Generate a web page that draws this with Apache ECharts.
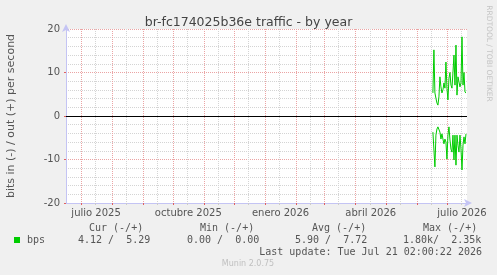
<!DOCTYPE html>
<html>
<head>
<meta charset="utf-8">
<script src="https://cdn.jsdelivr.net/npm/echarts@6/dist/echarts.min.js"></script>
<style>
html,body{margin:0;padding:0;background:#f0f0f0;}
#c{width:497px;height:275px;}
</style>
</head>
<body>
<div id="c"></div>
<script>
// ---- data ----
const AXIS_START = '2025-06-16';
const AXIS_DAYS = 401;
const DATA_START = '2026-06-17';
const outValues = [5.3, 15.2, 5.3, 4.1, 3.0, 2.5, 4.4, 9.0, 6.7, 5.3, 6.0, 7.6, 6.4, 12.4, 6.4, 3.7, 8.7,
  10.0, 7.1, 6.4, 10.0, 14.0, 7.1, 16.3, 4.8, 9.0, 8.7, 6.7, 7.6, 18.2, 7.1, 10.0, 5.5, 5.29];
const inValues = [-3.7, -4.1, -11.7, -4.4, -3.0, -2.5, -2.1, -3.7, -5.3, -4.1, -5.3, -6.4, -5.3, -6.0, -9.9,
  -4.4, -2.5, -5.5, -7.6, -8.3, -4.4, -10.1, -4.4, -11.3, -4.4, -6.7, -8.3, -4.4, -7.6, -12.4, -6.7, -4.8, -6.4, -4.12];
const yTicks = {min: -20, max: 20, interval: 10};
const monthNames = ['enero','febrero','marzo','abril','mayo','junio','julio','agosto','septiembre','octubre','noviembre','diciembre'];
const labelMonths = [0, 3, 6, 9];
const titleText = 'br-fc174025b36e traffic - by year';
const yName = 'bits in (-) / out (+) per second';
const legendHeaders = ['Cur (-/+)', 'Min (-/+)', 'Avg (-/+)', 'Max (-/+)'];
const legendValues = ['4.12 /  5.29', '0.00 /  0.00', '5.90 /  7.72', '1.80k/  2.35k'];
const lastUpdate = 'Last update: Tue Jul 21 02:00:22 2026';
const footer = 'Munin 2.0.75';
const sideText = 'RRDTOOL / TOBI OETIKER';

// ---- build ----
function fmt(t){ const d=new Date(t); return d.toISOString().slice(0,10); }
const t0 = Date.parse(AXIS_START + 'T00:00:00Z');
const days = [];
for (let i=0;i<AXIS_DAYS;i++) days.push(fmt(t0 + i*86400000));
const d0 = Date.parse(DATA_START + 'T00:00:00Z');
const outData = outValues.map((v,i)=>[fmt(d0+i*86400000), v]);
const inData = inValues.map((v,i)=>[fmt(d0+i*86400000), v]);

const isMonthStart = (i,v)=> v.slice(8,10)==='01';
const isMid = (i,v)=> v.slice(8,10)==='15';
const isLabel = (i,v)=> v.slice(8,10)==='16' && labelMonths.indexOf(+v.slice(5,7)-1)>=0;

const RED = '#eba4a4';
const GREY = '#d4d4d4';
const AXIS = '#c4c4f4';
const TXT = '#555';
const MONO = '"DejaVu Sans Mono", monospace';
const SANS = '"DejaVu Sans", sans-serif';

const graphics = [];
graphics.push({type:'text', x:11, y:116, rotation:Math.PI/2,
  style:{text:yName, font:'11px '+SANS, fill:TXT, textAlign:'center', textVerticalAlign:'middle'}});
graphics.push({type:'text', x:488.5, y:53.5, rotation:-Math.PI/2,
  style:{text:sideText, font:'7.5px '+SANS, fill:'#c4c4c4', textAlign:'center', textVerticalAlign:'middle'}});
const hx = [89, 200, 312, 423];
const vx = [78, 187, 295, 403];
legendHeaders.forEach((h,i)=>graphics.push({type:'text', x:hx[i], y:228,
  style:{text:h, font:'10px '+MONO, fill:TXT, textAlign:'left', textVerticalAlign:'middle'}}));
legendValues.forEach((h,i)=>graphics.push({type:'text', x:vx[i], y:240,
  style:{text:h, font:'10px '+MONO, fill:TXT, textAlign:'left', textVerticalAlign:'middle'}}));
graphics.push({type:'rect', shape:{x:14, y:237, width:6, height:6}, style:{fill:'#00cc00'}});
graphics.push({type:'text', x:27, y:240, style:{text:'bps', font:'10px '+MONO, fill:TXT, textAlign:'left', textVerticalAlign:'middle'}});
graphics.push({type:'text', x:482, y:252, style:{text:lastUpdate, font:'10px '+MONO, fill:TXT, textAlign:'right', textVerticalAlign:'middle'}});
graphics.push({type:'text', x:248, y:264, style:{text:footer, font:'8px '+SANS, fill:'#c0c0c0', textAlign:'center', textVerticalAlign:'middle'}});

const chart = echarts.init(document.getElementById('c'), null, {renderer:'canvas'});
chart.setOption({
  animation:false,
  backgroundColor:'#f0f0f0',
  title:{text:titleText, left:'center', top:11,
    textStyle:{fontFamily:SANS, fontSize:12.5, fontWeight:'normal', color:'#444'}},
  grid:{left:66, top:29, width:401, height:174, show:true, backgroundColor:'#fff', borderWidth:0, containLabel:false},
  xAxis:[{
    type:'category', data:days, boundaryGap:false, position:'bottom',
    axisLine:{onZero:false, lineStyle:{color:AXIS, width:1}, symbol:['none','arrow'], symbolSize:[6,8], symbolOffset:[0,5]},
    axisTick:{show:true, interval:isMonthStart, length:2, lineStyle:{color:'#e06060'}},
    axisLabel:{show:true, interval:isLabel, margin:5, color:TXT, fontSize:10, fontFamily:SANS,
      hideOverlap:false,
      formatter:(v)=>monthNames[+v.slice(5,7)-1]+' '+v.slice(0,4)},
    splitLine:{show:true, interval:isMonthStart, lineStyle:{color:RED, type:'dotted', width:1}}
  },{
    type:'category', data:days, boundaryGap:false, position:'bottom',
    axisLine:{show:false, onZero:false},
    axisTick:{show:true, interval:isMid, length:2, lineStyle:{color:'#cccccc'}},
    axisLabel:{show:false},
    splitLine:{show:true, interval:isMid, lineStyle:{color:GREY, type:'dotted', width:1}}
  }],
  yAxis:{
    type:'value', min:yTicks.min, max:yTicks.max, interval:yTicks.interval,
    axisLine:{show:true, lineStyle:{color:AXIS}, symbol:['none','arrow'], symbolSize:[6,8], symbolOffset:[0,5]},
    axisTick:{show:true, length:2, lineStyle:{color:'#e06060'}},
    axisLabel:{color:TXT, fontSize:10, fontFamily:SANS, margin:6},
    splitLine:{show:true, lineStyle:{color:RED, type:'dotted', width:1}},
    minorTick:{show:false, splitNumber:5},
    minorSplitLine:{show:true, lineStyle:{color:GREY, type:'dotted', width:1}}
  },
  graphic:graphics,
  series:[{
    name:'bps', type:'line', data:outData, showSymbol:false, symbol:'none',
    lineStyle:{color:'#00cc00', width:1}, itemStyle:{color:'#00cc00'}, z:5,
    markLine:{silent:true, symbol:'none', label:{show:false},
      lineStyle:{color:'#000', width:1, type:'solid'}, data:[{yAxis:0}]}
  },{
    name:'bps', type:'line', data:inData, showSymbol:false, symbol:'none',
    lineStyle:{color:'#00cc00', width:1}, itemStyle:{color:'#00cc00'}, z:5
  }]
});
</script>
</body>
</html>
